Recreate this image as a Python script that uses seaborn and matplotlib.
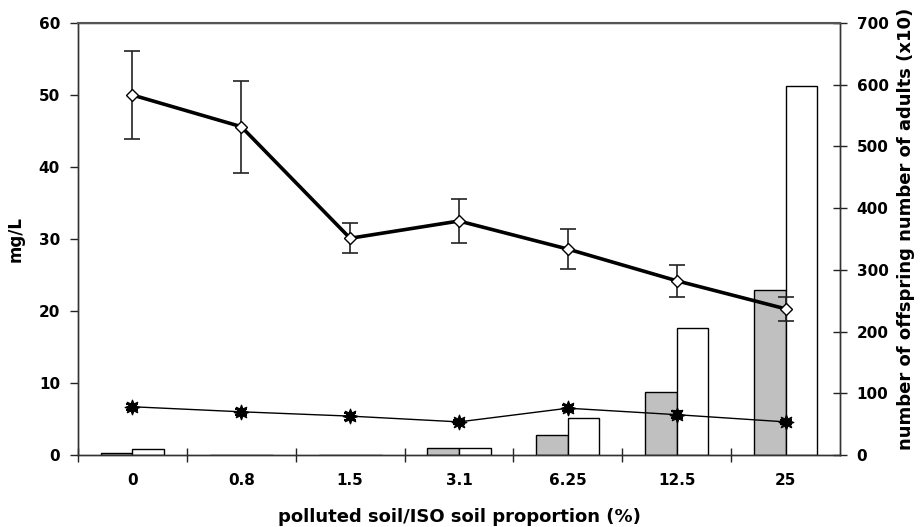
import numpy as np
import pandas as pd
import matplotlib
matplotlib.use("Agg")
import matplotlib.pyplot as plt
import seaborn as sns

categories = ["0", "0.8", "1.5", "3.1", "6.25", "12.5", "25"]

# left axis (mg/L)
open_mean = [50.0, 45.6, 30.1, 32.5, 28.6, 24.2, 20.3]
open_err = [6.1, 6.4, 2.1, 3.0, 2.8, 2.2, 1.7]
star_mean = [6.7, 6.0, 5.4, 4.6, 6.5, 5.6, 4.6]
star_err = [0.4, 0.4, 0.5, 0.3, 0.4, 0.5, 0.3]

# right axis (number x10)
offspring = [4, 0, 0, 12, 33, 102, 267]
adults = [9, 0, 0, 12, 60, 206, 598]

sns.set_theme(style="white")
plt.rcParams['font.family'] = ['DejaVu Sans']
plt.rcParams['font.weight'] = 'bold'
plt.rcParams['text.color'] = 'black'
plt.rcParams['axes.labelcolor'] = 'black'
plt.rcParams['xtick.color'] = 'black'
plt.rcParams['ytick.color'] = 'black'

fig = plt.figure(figsize=(9.23, 5.27), dpi=100)
ax = fig.add_axes([78/923, 1-455/527, (840-78)/923, (455-23)/527])
ax2 = ax.twinx()

bars = pd.DataFrame({
    "cat": categories * 2,
    "value": offspring + adults,
    "series": ["offspring"] * len(categories) + ["adults"] * len(categories),
})
sns.barplot(data=bars, x="cat", y="value", hue="series", order=categories,
            palette={"offspring": "#c0c0c0", "adults": "white"},
            width=0.58, gap=0, edgecolor="black", linewidth=1.0,
            legend=False, ax=ax2, saturation=1)

lines = pd.DataFrame({"cat": categories, "open": open_mean, "star": star_mean})
pos = np.arange(len(categories))
ax.errorbar(pos, open_mean, yerr=open_err, fmt='none', ecolor='#222222',
            elinewidth=1.2, capsize=5.5, capthick=1.2, zorder=2)
ax.errorbar(pos, star_mean, yerr=star_err, fmt='none', ecolor='black',
            elinewidth=1.0, capsize=4, capthick=1.5, zorder=2)
sns.pointplot(data=lines, x="cat", y="open", order=categories, color="black",
              marker="D", markersize=6, markerfacecolor="white",
              markeredgecolor="black", markeredgewidth=1.0,
              linewidth=2.6, errorbar=None, ax=ax, zorder=3)
sns.pointplot(data=lines, x="cat", y="star", order=categories, color="black",
              marker=(8, 1, 0), markersize=11, linewidth=1.0,
              errorbar=None, ax=ax, zorder=3)

ax.set_zorder(ax2.get_zorder() + 1)
ax.patch.set_visible(False)

ax.set_xlim(-0.5, len(categories) - 0.5)
ax2.set_xlim(-0.5, len(categories) - 0.5)
ax.set_ylim(0, 60)
ax2.set_ylim(0, 700)
ax.set_yticks(np.arange(0, 61, 10))
ax2.set_yticks(np.arange(0, 701, 100))

ax.set_xticks(pos)
ax.set_xticklabels(categories)
ax.set_xticks(np.arange(-0.5, len(categories) - 0.5, 1), minor=True)
ax.tick_params(axis='x', which='major', length=0, pad=13, labelsize=11)
ax.tick_params(axis='x', which='minor', direction='inout', length=10, width=1, color='#222222', bottom=True)
ax.tick_params(axis='y', which='major', direction='out', length=6, width=1, color='#222222',
               left=True, labelsize=11, pad=7)
ax2.tick_params(axis='y', which='major', direction='inout', length=10, width=1, color='#222222',
                right=True, labelsize=11, pad=7)
ax2.set_xlabel("")
ax2.set_ylabel("")

for a in (ax, ax2):
    for s in a.spines.values():
        s.set_visible(True)
        s.set_color('#333333')
        s.set_linewidth(1.0)
ax.spines['top'].set_color('#555555')
ax.spines['top'].set_linewidth(1.5)

ax.set_xlabel("polluted soil/ISO soil proportion (%)", fontsize=13, fontweight='bold', labelpad=14)
ax.set_ylabel("mg/L", fontsize=12, fontweight='bold', labelpad=10)
ax2.set_ylabel("number of offspring number of adults (x10)", fontsize=13, fontweight='bold')
ax2.yaxis.set_label_coords(1.075, 0.523)
for lab in ax.get_xticklabels() + ax.get_yticklabels() + ax2.get_yticklabels():
    lab.set_fontweight('bold')

fig.savefig("out.png", dpi=100)
